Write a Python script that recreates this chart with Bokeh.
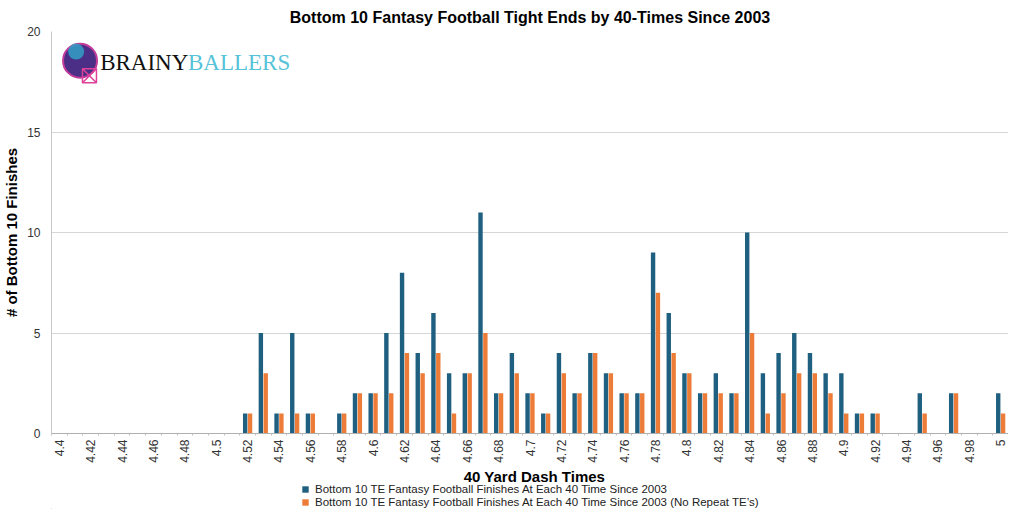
from bokeh.plotting import figure
from bokeh.layouts import column
from bokeh.models import Range1d, Legend, LegendItem, Label, ColumnDataSource, FixedTicker
from bokeh.transform import dodge
from bokeh.embed import file_html
from bokeh.resources import INLINE

dash_times = [4.40, 4.41, 4.42, 4.43, 4.44, 4.45, 4.46, 4.47, 4.48, 4.49,
              4.50, 4.51, 4.52, 4.53, 4.54, 4.55, 4.56, 4.57, 4.58, 4.59,
              4.60, 4.61, 4.62, 4.63, 4.64, 4.65, 4.66, 4.67, 4.68, 4.69,
              4.70, 4.71, 4.72, 4.73, 4.74, 4.75, 4.76, 4.77, 4.78, 4.79,
              4.80, 4.81, 4.82, 4.83, 4.84, 4.85, 4.86, 4.87, 4.88, 4.89,
              4.90, 4.91, 4.92, 4.93, 4.94, 4.95, 4.96, 4.97, 4.98, 4.99,
              5.00]

all_finishes = [0, 0, 0, 0, 0, 0, 0, 0, 0, 0,
                0, 0, 1, 5, 1, 5, 1, 0, 1, 2,
                2, 5, 8, 4, 6, 3, 3, 11, 2, 4,
                2, 1, 4, 2, 4, 3, 2, 2, 9, 6,
                3, 2, 3, 2, 10, 3, 4, 5, 4, 3,
                3, 1, 1, 0, 0, 2, 0, 2, 0, 0,
                2]

no_repeat = [0, 0, 0, 0, 0, 0, 0, 0, 0, 0,
             0, 0, 1, 3, 1, 1, 1, 0, 1, 2,
             2, 2, 4, 3, 4, 1, 3, 5, 2, 3,
             2, 1, 3, 2, 4, 3, 2, 2, 7, 4,
             3, 2, 2, 2, 5, 1, 2, 3, 3, 2,
             1, 1, 1, 0, 0, 1, 0, 2, 0, 0,
             1]

tick_values = [4.40, 4.42, 4.44, 4.46, 4.48, 4.50, 4.52, 4.54, 4.56, 4.58,
               4.60, 4.62, 4.64, 4.66, 4.68, 4.70, 4.72, 4.74, 4.76, 4.78,
               4.80, 4.82, 4.84, 4.86, 4.88, 4.90, 4.92, 4.94, 4.96, 4.98, 5.00]
tick_labels = ["4.4", "4.42", "4.44", "4.46", "4.48", "4.5", "4.52", "4.54", "4.56", "4.58",
               "4.6", "4.62", "4.64", "4.66", "4.68", "4.7", "4.72", "4.74", "4.76", "4.78",
               "4.8", "4.82", "4.84", "4.86", "4.88", "4.9", "4.92", "4.94", "4.96", "4.98", "5"]

series_names = ["Bottom 10 TE Fantasy Football Finishes At Each 40 Time Since 2003",
                "Bottom 10 TE Fantasy Football Finishes At Each 40 Time Since 2003 (No Repeat TE\u2019s)"]

BLUE = "#1f5f80"
ORANGE = "#ec7c38"
FONT = "Liberation Sans"

src = ColumnDataSource(data=dict(t=dash_times, a=all_finishes, b=no_repeat))

p = figure(x_range=Range1d(4.395, 5.005), y_range=Range1d(0, 20),
           width=1008, height=465, output_backend="svg", toolbar_location=None,
           title="Bottom 10 Fantasy Football Tight Ends by 40-Times Since 2003",
           min_border_left=41, min_border_right=0, min_border_bottom=0, min_border_top=0)

p.title.align = "center"
p.title.text_font = FONT
p.title.text_font_size = "16px"
p.title.text_font_style = "bold"
p.title.text_color = "#000000"
p.title.standoff = 12

p.vbar(x=dodge("t", -0.00155, range=p.x_range), top="a", width=0.0028, source=src,
       fill_color=BLUE, line_color=None)
p.vbar(x=dodge("t", 0.00155, range=p.x_range), top="b", width=0.0028, source=src,
       fill_color=ORANGE, line_color=None)

p.outline_line_color = None
p.xgrid.grid_line_color = None
p.ygrid.grid_line_color = "#d6d6d6"
p.ygrid.grid_line_width = 1
p.yaxis.ticker = FixedTicker(ticks=[0, 5, 10, 15, 20])

for ax in (p.xaxis[0], p.yaxis[0]):
    ax.major_label_text_font = FONT
    ax.major_label_text_font_size = "12px"
    ax.major_label_text_color = "#333333"
    ax.axis_label_text_font = FONT
    ax.axis_label_text_font_size = "15px"
    ax.axis_label_text_font_style = "bold"
    ax.axis_label_text_color = "#000000"

p.yaxis.axis_label = "# of Bottom 10 Finishes"
p.yaxis.axis_line_color = "#c8c8c8"
p.yaxis.major_tick_line_color = None
p.yaxis.minor_tick_line_color = None
p.yaxis.axis_label_standoff = 4
p.yaxis.major_label_standoff = 5

p.xaxis.ticker = FixedTicker(ticks=tick_values,
                             minor_ticks=[t - 0.005 for t in dash_times] + [5.005])
p.xaxis.major_label_overrides = dict(zip(tick_values, tick_labels))
p.xaxis.axis_line_color = "#b0b0b0"
p.xaxis.major_tick_line_color = None
p.xaxis.major_tick_out = 0
p.xaxis.major_tick_in = 0
p.xaxis.minor_tick_line_color = "#c0c0c0"
p.xaxis.minor_tick_out = 2
p.xaxis.minor_tick_in = 0
p.xaxis.major_label_orientation = 3.14159265 / 2
p.xaxis.major_label_standoff = 4

# Logo
p.scatter(x=[4.4132], y=[18.55], size=34, marker="circle", fill_color="#4b2f86", line_color="#c23c9b", line_width=2)
p.scatter(x=[4.4107], y=[19.0], size=16, marker="circle", fill_color="#2fa6c9", line_color=None, fill_alpha=0.8)
p.scatter(x=[4.4192], y=[17.8], size=14, marker="square_x", fill_color=None, line_color="#e0409a", line_width=1.5)
p.add_layout(Label(x=4.426, y=17.85, text="BRAINY", text_font="Liberation Serif", text_font_size="23px",
                   text_color="#111111"))
p.add_layout(Label(x=4.482, y=17.85, text="BALLERS", text_font="Liberation Serif", text_font_size="23px",
                   text_color="#56c3d8"))

# Strip below the chart: x-axis title and legend (frame aligned with the chart's frame)
lg = figure(width=1008, height=44, output_backend="svg", toolbar_location=None,
            x_range=Range1d(0, 967), y_range=Range1d(0, 44),
            x_axis_type=None, y_axis_type=None,
            min_border=0, outline_line_color=None)
lg.grid.visible = False
lg.add_layout(Label(x=488, y=33, text="40 Yard Dash Times", text_align="center", text_baseline="middle",
                    text_font=FONT, text_font_size="15px", text_font_style="bold", text_color="#000000"))
d1 = lg.vbar(x=[-100], top=[1], width=1, fill_color=BLUE, line_color=None)
d2 = lg.vbar(x=[-100], top=[1], width=1, fill_color=ORANGE, line_color=None)
legend = Legend(items=[LegendItem(label=series_names[0], renderers=[d1]),
                       LegendItem(label=series_names[1], renderers=[d2])],
                orientation="vertical", location=(250, 1))
legend.label_text_font = FONT
legend.label_text_font_size = "11.5px"
legend.label_text_color = "#222222"
legend.glyph_width = 8
legend.glyph_height = 8
legend.label_height = 12
legend.label_standoff = 6
legend.spacing = 1
legend.padding = 0
legend.margin = 0
legend.border_line_color = None
legend.background_fill_alpha = 0
lg.add_layout(legend)

layout = column(p, lg, spacing=0)

open("out.html", "w").write(file_html(layout, INLINE))
